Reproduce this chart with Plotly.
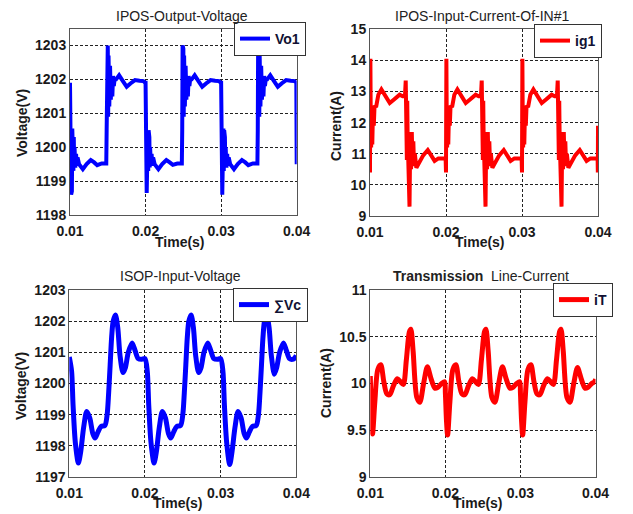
import plotly.graph_objects as go

# ---------------- data ----------------
PERIOD_STARTS = [0.01, 0.02, 0.03]
X_TICKS = [0.01, 0.02, 0.03, 0.04]
X_TICK_TEXT = ["0.01", "0.02", "0.03", "0.04"]

# IPOS output voltage Vo1 : time offsets inside one 0.01 s period
VO1_OFFSETS = [0.0, 0.00015, 0.0002, 0.00025, 0.0003, 0.00035, 0.0004, 0.00045, 0.0005, 0.00055,
               0.0006, 0.0007, 0.0008, 0.0009, 0.0010, 0.0012, 0.0017, 0.0022, 0.00275, 0.0032,
               0.0036, 0.0042, 0.0048, 0.00485, 0.0049, 0.00495, 0.0050, 0.00505, 0.0051, 0.0052,
               0.0053, 0.0054, 0.0055, 0.0056, 0.0057, 0.0058, 0.0059, 0.0061, 0.0065, 0.0070,
               0.0075, 0.0080, 0.0086, 0.0092, 0.0097, 0.00995]
VO1_P1 = [1201.9, 1198.6, 1199.3, 1198.7, 1200.55, 1199.3, 1200.5, 1199.3, 1200.3, 1199.4,
          1200.0, 1199.4, 1199.8, 1199.45, 1199.7, 1199.5, 1199.35, 1199.5, 1199.62, 1199.55,
          1199.47, 1199.52, 1199.52, 1200.5, 1203.0, 1200.6, 1203.0, 1200.9, 1202.7, 1201.2,
          1202.4, 1201.4, 1202.1, 1201.5, 1202.1, 1201.8, 1202.0, 1202.0, 1202.12, 1201.95,
          1201.78, 1201.88, 1201.98, 1201.96, 1201.95, 1201.9]
VO1_P2 = [1201.9, 1198.65, 1199.3, 1198.7, 1200.5, 1199.3, 1200.5, 1199.35, 1200.3, 1199.4,
          1200.0, 1199.45, 1199.8, 1199.45, 1199.7, 1199.5, 1199.35, 1199.5, 1199.62, 1199.55,
          1199.48, 1199.52, 1199.52, 1200.5, 1203.0, 1200.6, 1202.9, 1200.9, 1202.7, 1201.2,
          1202.4, 1201.4, 1202.1, 1201.5, 1202.1, 1201.8, 1202.0, 1202.0, 1202.12, 1201.95,
          1201.78, 1201.88, 1201.98, 1201.96, 1201.95, 1201.9]
VO1_P3 = [1201.9, 1198.6, 1199.3, 1198.7, 1200.55, 1199.3, 1200.5, 1199.3, 1200.3, 1199.4,
          1200.0, 1199.4, 1199.8, 1199.45, 1199.7, 1199.5, 1199.35, 1199.5, 1199.62, 1199.55,
          1199.47, 1199.52, 1199.52, 1200.5, 1203.1, 1200.6, 1203.0, 1200.9, 1202.7, 1201.2,
          1202.4, 1201.4, 1202.1, 1201.5, 1202.1, 1201.8, 1202.0, 1202.0, 1202.12, 1201.95,
          1201.78, 1201.88, 1201.98, 1201.96, 1201.95, 1201.9]
VO1_END_T = [0.04]
VO1_END_V = [1199.5]

# IPOS input current ig1
IG1_OFFSETS = [0.0, 0.00005, 0.0001, 0.00015, 0.0002, 0.0003, 0.0004, 0.0005, 0.0006, 0.0008,
               0.0011, 0.0015, 0.0020, 0.0026, 0.0032, 0.0039, 0.0043, 0.0046, 0.0047, 0.00485,
               0.0049, 0.00495, 0.0052, 0.0053, 0.0054, 0.0055, 0.0056, 0.0057, 0.0058, 0.0059,
               0.0061, 0.0065, 0.0070, 0.0076, 0.0081, 0.0085, 0.0090, 0.0097, 0.00995]
IG1_P1 = [10.4, 14.05, 12.0, 11.2, 12.5, 11.3, 12.45, 11.9, 12.55, 12.5,
          12.9, 13.07, 12.85, 12.63, 12.75, 12.9, 12.85, 12.85, 13.35, 10.8,
          12.7, 11.6, 9.3, 11.7, 10.5, 11.7, 10.6, 11.4, 10.6, 11.0,
          10.55, 10.75, 10.95, 11.12, 10.9, 10.77, 10.85, 10.85, 10.85]
IG1_P2 = [10.4, 14.05, 12.0, 11.2, 12.5, 11.3, 12.45, 11.9, 12.55, 12.5,
          12.9, 13.07, 12.85, 12.63, 12.75, 12.9, 12.85, 12.85, 13.35, 10.8,
          12.7, 11.6, 9.3, 11.7, 10.5, 11.7, 10.6, 11.4, 10.6, 11.0,
          10.55, 10.75, 10.95, 11.12, 10.9, 10.77, 10.85, 10.85, 10.85]
IG1_P3 = [10.4, 14.05, 12.0, 11.2, 12.5, 11.3, 12.45, 11.9, 12.55, 12.5,
          12.9, 13.07, 12.85, 12.63, 12.75, 12.9, 12.85, 12.85, 13.35, 10.8,
          12.7, 11.6, 9.3, 11.7, 10.5, 11.7, 10.6, 11.4, 10.6, 11.0,
          10.55, 10.75, 10.95, 11.12, 10.9, 10.77, 10.85, 10.85, 10.85]
IG1_END_T = [0.03998, 0.04]
IG1_END_V = [10.4, 11.9]

# ISOP input voltage sum(Vc)
VC_OFFSETS = [0.0, 0.0003, 0.0005, 0.0008, 0.0012, 0.0015, 0.0019, 0.0023, 0.0027, 0.0031,
              0.0034, 0.0038, 0.0042, 0.0047, 0.0050, 0.0052, 0.0054, 0.0056, 0.0058, 0.0061,
              0.0064, 0.0067, 0.0071, 0.0074, 0.0078, 0.0083, 0.0087, 0.0091, 0.0096]
VC_P1 = [1200.85, 1200.4, 1199.3, 1198.1, 1197.45, 1197.8, 1198.6, 1199.1, 1198.9, 1198.4,
         1198.25, 1198.45, 1198.62, 1198.65, 1199.0, 1199.7, 1200.6, 1201.5, 1202.0, 1202.2,
         1201.8, 1200.9, 1200.35, 1200.5, 1201.0, 1201.3, 1201.05, 1200.8, 1200.78]
VC_P2 = [1200.8, 1200.4, 1199.3, 1198.1, 1197.45, 1197.8, 1198.6, 1199.1, 1198.9, 1198.4,
         1198.25, 1198.45, 1198.62, 1198.65, 1199.0, 1199.7, 1200.6, 1201.5, 1202.0, 1202.2,
         1201.8, 1200.9, 1200.35, 1200.5, 1201.0, 1201.3, 1201.05, 1200.8, 1200.78]
VC_P3 = [1200.8, 1200.4, 1199.3, 1198.1, 1197.4, 1197.8, 1198.6, 1199.1, 1198.9, 1198.4,
         1198.25, 1198.45, 1198.62, 1198.65, 1199.0, 1199.7, 1200.6, 1201.5, 1202.0, 1202.2,
         1201.8, 1200.9, 1200.3, 1200.5, 1201.0, 1201.3, 1201.05, 1200.8, 1200.78]
VC_END_T = [0.04]
VC_END_V = [1200.9]

# Transmission line current iT
IT_OFFSETS = [0.0, 0.00015, 0.0003, 0.0006, 0.0010, 0.0014, 0.0018, 0.0022, 0.0026, 0.0031,
              0.0036, 0.0040, 0.0044, 0.0048, 0.0052, 0.0054, 0.0057, 0.0062, 0.0066, 0.0071,
              0.0076, 0.0081, 0.0086, 0.0090, 0.0095, 0.0099]
IT_P1 = [10.08, 9.65, 9.46, 9.8, 10.15, 10.2, 10.02, 9.89, 9.88, 9.98,
         10.05, 10.02, 9.99, 10.25, 10.55, 10.58, 10.35, 9.85, 9.8, 10.0,
         10.18, 10.05, 9.95, 9.96, 10.0, 10.02]
IT_P2 = [9.9, 9.6, 9.45, 9.8, 10.15, 10.2, 10.02, 9.89, 9.88, 9.98,
         10.05, 10.02, 9.99, 10.25, 10.55, 10.58, 10.35, 9.85, 9.8, 10.0,
         10.18, 10.05, 9.95, 9.96, 10.0, 10.02]
IT_P3 = [9.9, 9.6, 9.45, 9.8, 10.15, 10.2, 10.02, 9.89, 9.88, 9.98,
         10.05, 10.02, 9.99, 10.25, 10.55, 10.58, 10.35, 9.85, 9.8, 10.0,
         10.17, 10.05, 9.95, 9.96, 10.0, 10.02]
IT_END_T = [0.04]
IT_END_V = [10.05]


def build(offsets, periods, end_t, end_v):
    t, v = [], []
    for p, vals in zip(PERIOD_STARTS, periods):
        assert len(vals) == len(offsets)
        t += [round(p + r, 6) for r in offsets]
        v += list(vals)
    return t + end_t, v + end_v


vo1_t, vo1_v = build(VO1_OFFSETS, [VO1_P1, VO1_P2, VO1_P3], VO1_END_T, VO1_END_V)
ig1_t, ig1_v = build(IG1_OFFSETS, [IG1_P1, IG1_P2, IG1_P3], IG1_END_T, IG1_END_V)
vc_t, vc_v = build(VC_OFFSETS, [VC_P1, VC_P2, VC_P3], VC_END_T, VC_END_V)
it_t, it_v = build(IT_OFFSETS, [IT_P1, IT_P2, IT_P3], IT_END_T, IT_END_V)

# ---------------- figure ----------------
# the page body has an 8 px margin, so the figure is 8 px smaller each way and
# every screen position below is shifted by that offset
OFF = 8
W, H = 633 - OFF, 514 - OFF
FONT = "Arial, 'Liberation Sans', sans-serif"
BLUE = "#0000ff"
RED = "#ff0000"


def px(x):
    return (x - OFF) / W


def py(y):
    return 1 - (y - OFF) / H


fig = go.Figure()
fig.add_trace(go.Scatter(x=vo1_t, y=vo1_v, mode="lines", name="Vo1", showlegend=True,
                         line=dict(color=BLUE, width=4), xaxis="x", yaxis="y", legend="legend"))
fig.add_trace(go.Scatter(x=ig1_t, y=ig1_v, mode="lines", name="ig1", showlegend=True,
                         line=dict(color=RED, width=4), xaxis="x2", yaxis="y2", legend="legend2"))
fig.add_trace(go.Scatter(x=vc_t, y=vc_v, mode="lines", name="\u2211Vc", showlegend=True,
                         line=dict(color=BLUE, width=5, shape="spline", smoothing=0.8),
                         xaxis="x3", yaxis="y3", legend="legend3"))
fig.add_trace(go.Scatter(x=it_t, y=it_v, mode="lines", name="iT", showlegend=True,
                         line=dict(color=RED, width=5, shape="spline", smoothing=0.8),
                         xaxis="x4", yaxis="y4", legend="legend4"))

axc = dict(showline=True, linecolor="#555555", linewidth=1, mirror=True,
           showgrid=True, gridcolor="#222222", griddash="3px,2px", gridwidth=1,
           zeroline=False, ticks="", fixedrange=True, automargin=False,
           tickfont=dict(family=FONT, size=14, color="#1a1a1a", weight="bold"))


def xax(dom, anchor):
    return dict(axc, domain=dom, anchor=anchor, range=[0.01, 0.04],
                tickmode="array", tickvals=X_TICKS, ticktext=X_TICK_TEXT,
                ticklabelstandoff=3)


def yax(dom, anchor, rng, tv, tt):
    return dict(axc, domain=dom, anchor=anchor, range=rng,
                tickmode="array", tickvals=tv, ticktext=tt)


# panel pixel boxes in the screenshot (left, right, top, bottom)
P1 = (70, 296.7, 28.5, 215)
P2 = (370, 598, 29.3, 216)
P3 = (69.3, 296.3, 290, 477)
P4 = (370.3, 595.5, 290, 477)


def xd(p):
    return [px(p[0]), px(p[1])]


def yd(p):
    return [py(p[3]), py(p[2])]


V1_TICKS = [1198, 1199, 1200, 1201, 1202, 1203]
I1_TICKS = [9, 10, 11, 12, 13, 14, 15]
V3_TICKS = [1197, 1198, 1199, 1200, 1201, 1202, 1203]
I4_TICKS = [9, 9.5, 10, 10.5, 11]

fig.update_layout(
    width=W, height=H, autosize=False,
    margin=dict(l=0, r=0, t=0, b=0, autoexpand=False),
    paper_bgcolor="white", plot_bgcolor="white",
    showlegend=True,
    font=dict(family=FONT, size=14, color="#1a1a1a"),
    xaxis=xax(xd(P1), "y"),
    yaxis=yax(yd(P1), "x", [1198, 1203.5], V1_TICKS, [str(v) for v in V1_TICKS]),
    xaxis2=xax(xd(P2), "y2"),
    yaxis2=yax(yd(P2), "x2", [9, 15], I1_TICKS, [str(v) for v in I1_TICKS]),
    xaxis3=xax(xd(P3), "y3"),
    yaxis3=yax(yd(P3), "x3", [1197, 1203], V3_TICKS, [str(v) for v in V3_TICKS]),
    xaxis4=xax(xd(P4), "y4"),
    yaxis4=yax(yd(P4), "x4", [9, 11], I4_TICKS, ["9", "9.5", "10", "10.5", "11"]),
)

legc = dict(bgcolor="white", bordercolor="#333333", borderwidth=1, visible=True,
            font=dict(family=FONT, size=14, color="#111133", weight="bold"),
            xanchor="left", yanchor="top", tracegroupgap=0)
fig.update_layout(
    legend=dict(legc, x=px(234), y=py(22)),
    legend2=dict(legc, x=px(534), y=py(24)),
    legend3=dict(legc, x=px(233), y=py(288)),
    legend4=dict(legc, x=px(553), y=py(283)),
)

ann = []
TITLE_FONT = dict(family=FONT, size=14, color="#222222")
LABEL_FONT = dict(family=FONT, size=14, color="#1a1a1a", weight="bold")


def text(x, y, s, f, angle=0):
    ann.append(dict(x=px(x), y=py(y), xref="paper", yref="paper", text=s, showarrow=False,
                    xanchor="center", yanchor="middle", font=f, textangle=angle))


text(182, 16, "IPOS-Output-Voltage", TITLE_FONT)
text(482, 16, "IPOS-Input-Current-Of-IN#1", TITLE_FONT)
text(180, 276, "ISOP-Input-Voltage", TITLE_FONT)
text(481, 276, "<b>Transmission</b>  Line-Current", TITLE_FONT)

text(180, 242, "Time(s)", LABEL_FONT)
text(480, 242, "Time(s)", LABEL_FONT)
text(178, 503, "Time(s)", LABEL_FONT)
text(478, 503, "Time(s)", LABEL_FONT)

text(22, 123, "Voltage(V)", LABEL_FONT, -90)
text(336, 126, "Current(A)", LABEL_FONT, -90)
text(21, 386, "Voltage(V)", LABEL_FONT, -90)
text(326, 383, "Current(A)", LABEL_FONT, -90)

fig.update_layout(annotations=ann)

fig.write_html("out.html")
